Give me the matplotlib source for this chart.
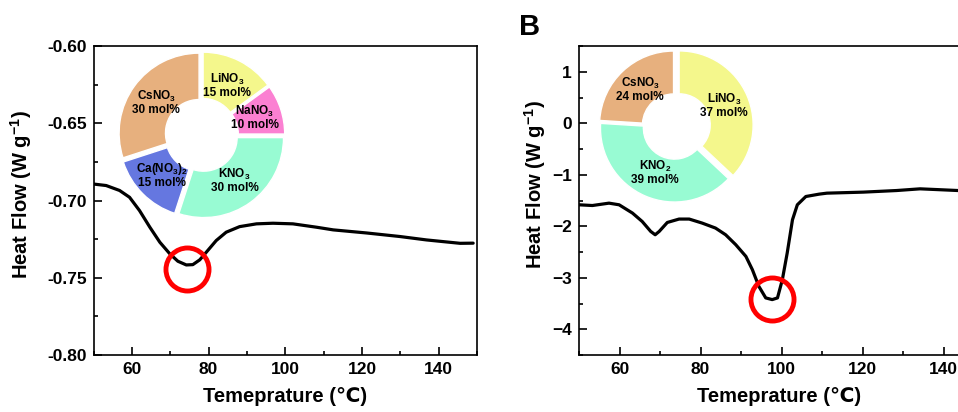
import numpy as np
import matplotlib.pyplot as plt
from matplotlib.ticker import MultipleLocator, AutoMinorLocator

plt.rcParams['font.family'] = ['Liberation Sans', 'DejaVu Sans']
plt.rcParams['font.weight'] = 'bold'
plt.rcParams['mathtext.fontset'] = 'custom'
plt.rcParams['mathtext.bf'] = 'Liberation Sans:bold'
plt.rcParams['mathtext.rm'] = 'Liberation Sans:bold'
plt.rcParams['mathtext.default'] = 'bf'

# DSC curve, 5-salt mixture
temp_a = [49.9, 53.3, 56.8, 59.4, 62.0, 64.7, 67.3, 69.9, 72.0, 74.2, 75.9, 77.7,
          79.4, 82.0, 84.6, 88.1, 92.5, 96.8, 102.0, 108.2, 112.5, 121.2, 129.9,
          136.8, 140.4, 145.6, 149.0]
flow_a = [-0.6893, -0.6903, -0.6935, -0.6979, -0.7065, -0.7173, -0.7270, -0.7345,
          -0.7393, -0.7417, -0.7415, -0.7384, -0.7335, -0.7259, -0.7205, -0.7169,
          -0.7151, -0.7147, -0.7151, -0.7173, -0.7190, -0.7210, -0.7233, -0.7255,
          -0.7264, -0.7277, -0.7276]
peak_a = (74.3, -0.7443)

# DSC curve, 3-salt mixture
temp_b = [50.0, 53.3, 57.4, 59.9, 63.2, 65.6, 67.7, 68.8, 69.8, 71.8, 74.7, 77.2,
          80.4, 83.7, 86.2, 88.7, 91.2, 92.8, 94.4, 96.1, 97.7, 99.0, 100.2, 101.4,
          102.7, 103.9, 106.0, 109.3, 111.2, 120.2, 128.4, 134.2, 143.6, 150.0]
flow_b = [-1.583, -1.597, -1.551, -1.583, -1.744, -1.907, -2.10, -2.165, -2.10,
          -1.926, -1.86, -1.86, -1.938, -2.035, -2.165, -2.358, -2.585, -2.843,
          -3.167, -3.391, -3.424, -3.391, -3.037, -2.519, -1.874, -1.583, -1.422,
          -1.376, -1.357, -1.337, -1.306, -1.273, -1.306, -1.30]
peak_b = (97.6, -3.405)

# compositions
salts_a = ['LiNO$_3$', 'NaNO$_3$', 'KNO$_3$', 'Ca(NO$_3$)$_2$', 'CsNO$_3$']
mol_a = [15, 10, 30, 15, 30]
colors_a = ['#f4f78c', '#fb80d2', '#98fbd3', '#6577e0', '#e7b07e']

salts_b = ['CsNO$_3$', 'KNO$_2$', 'LiNO$_3$']
mol_b = [24, 39, 37]
colors_b = ['#e7b07e', '#98fbd3', '#f4f78c']

fig = plt.figure(figsize=(9.58, 4.12), dpi=100)
ax1 = fig.add_axes([0.0976, 0.1383, 0.4003, 0.75])
ax2 = fig.add_axes([0.6044, 0.1383, 0.4228, 0.75])

for ax, t, q, pk in [(ax1, temp_a, flow_a, peak_a), (ax2, temp_b, flow_b, peak_b)]:
    ax.plot(t, q, color='black', lw=2.3, solid_joinstyle='round',
            solid_capstyle='round')
    ax.plot(pk[0], pk[1], 'o', ms=31, mfc='none', mec='#ff0000', mew=3.5)
    ax.set_xlim(50, 150)
    ax.xaxis.set_major_locator(MultipleLocator(20))
    ax.xaxis.set_minor_locator(AutoMinorLocator(2))
    ax.yaxis.set_minor_locator(AutoMinorLocator(2))
    ax.tick_params(which='both', direction='in', top=False, right=False,
                   labelsize=12.5, width=1.2, pad=5)
    ax.tick_params(which='major', length=6)
    ax.tick_params(which='minor', length=3)
    for s in ax.spines.values():
        s.set_linewidth(1.2)
    ax.set_xlabel('Temeprature (℃)', fontsize=14.5, fontweight='bold')
    ax.set_ylabel('Heat Flow (W g$^{-1}$)', fontsize=14.5, fontweight='bold')

ax1.set_ylim(-0.80, -0.60)
ax1.yaxis.set_major_locator(MultipleLocator(0.05))
ax1.yaxis.set_major_formatter(lambda v, p: f'{v:.2f}')
ax2.set_ylim(-4.5, 1.5)
ax2.yaxis.set_major_locator(MultipleLocator(1))

for ax in (ax1, ax2):
    for lbl in ax.get_xticklabels() + ax.get_yticklabels():
        lbl.set_fontweight('heavy')

ax1.xaxis.set_label_coords(0.5, -0.105)
ax2.xaxis.set_label_coords(0.494, -0.105)
ax1.yaxis.set_label_coords(-0.155, 0.52)
ax2.yaxis.set_label_coords(-0.077, 0.55)

fig.text(530 / 958, 1 - 27 / 412, 'B', fontsize=21, fontweight='bold',
         ha='center', va='center')

# composition donuts
pa = fig.add_axes([0.1145, 0.449, 0.192, 0.4466])
pa.pie(mol_a, labels=[f'{s}\n{m} mol%' for s, m in zip(salts_a, mol_a)],
       colors=colors_a, startangle=90, counterclock=False,
       explode=[0.04] * len(mol_a), labeldistance=0.66,
       wedgeprops=dict(width=0.58, edgecolor='white', linewidth=1),
       textprops=dict(fontsize=8.5, fontweight='bold', ha='center', va='center',
                      linespacing=1.0))
pa.set_xlim(-1.15, 1.15)
pa.set_ylim(-1.15, 1.15)
pa.set_aspect('equal')
pa.axis('off')

pb = fig.add_axes([0.6158, 0.486, 0.1777, 0.4131])
pb.pie(mol_b, labels=[f'{s}\n{m} mol%' for s, m in zip(salts_b, mol_b)],
       colors=colors_b, startangle=90, counterclock=True,
       explode=[0.03, 0.02, 0.06], labeldistance=0.66,
       wedgeprops=dict(width=0.58, edgecolor='white', linewidth=1),
       textprops=dict(fontsize=8.5, fontweight='bold', ha='center', va='center',
                      linespacing=1.0))
pb.set_xlim(-1.15, 1.15)
pb.set_ylim(-1.15, 1.15)
pb.set_aspect('equal')
pb.axis('off')

fig.savefig('out.png', dpi=100)
